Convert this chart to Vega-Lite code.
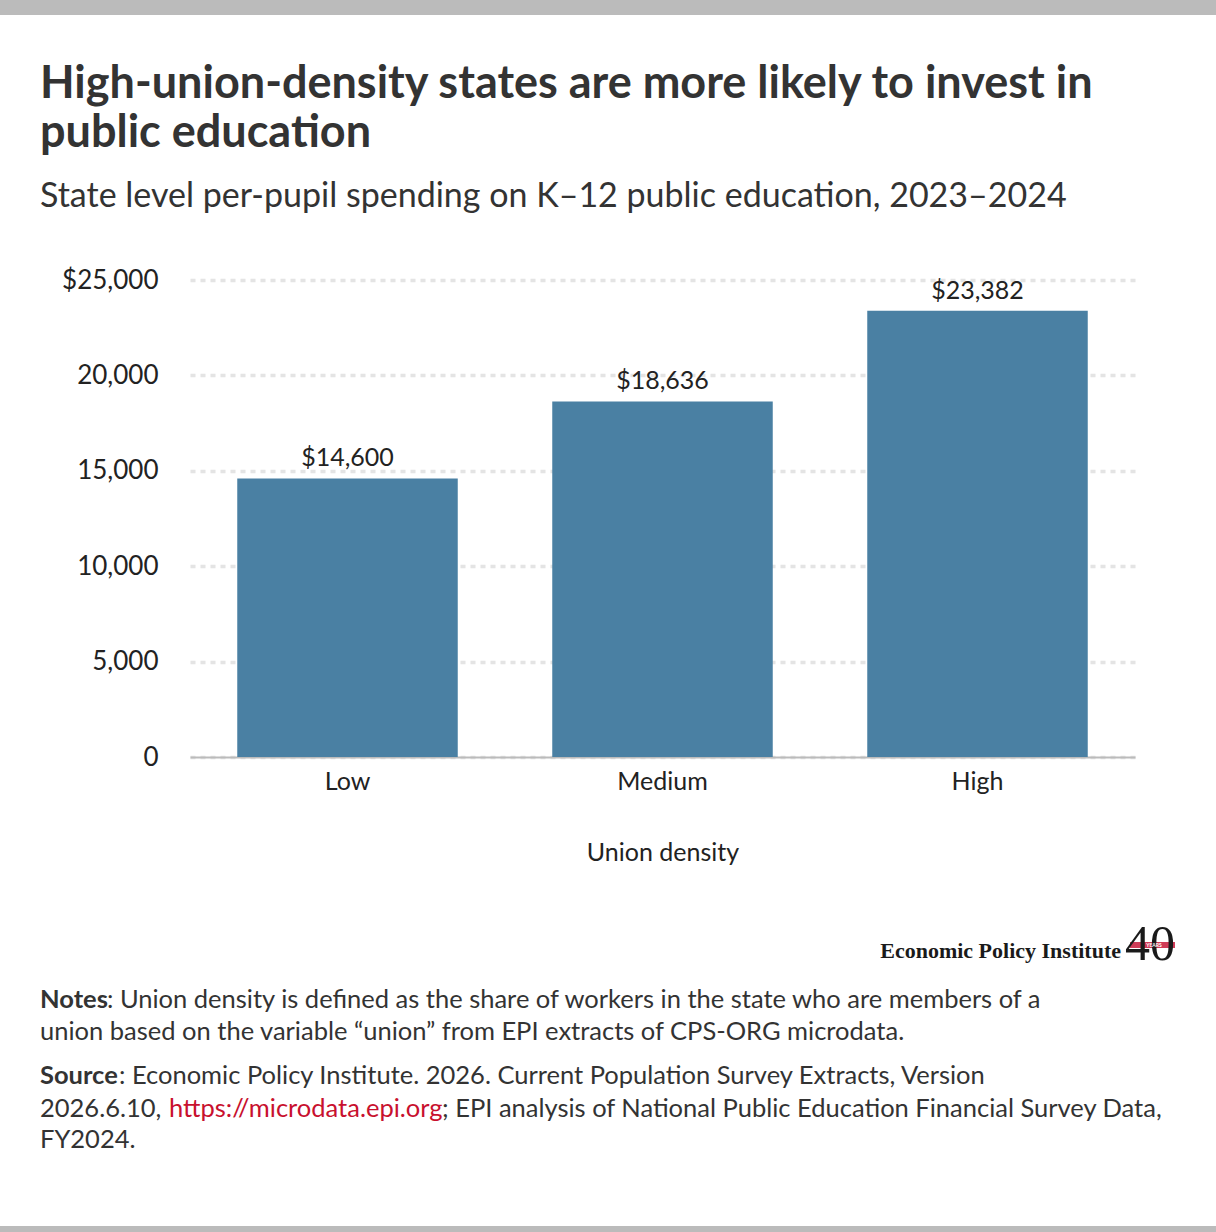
{
  "$schema": "https://vega.github.io/schema/vega-lite/v6.json",
  "description": "State level per-pupil spending on K-12 public education by union density, 2023-2024",
  "autosize": {"type": "none"},
  "padding": {"top": 280, "left": 190, "right": 81, "bottom": 475},
  "width": 945,
  "height": 477,
  "background": "white",
  "config": {
    "font": "Lato",
    "view": {"stroke": null},
    "text": {"font": "Lato", "color": "#333333"}
  },
  "datasets": {
    "spending": [
      {"density": "Low", "spending": 14600},
      {"density": "Medium", "spending": 18636},
      {"density": "High", "spending": 23382}
    ],
    "notes": [
      {"id": "t1", "text": "High-union-density states are more likely to invest in"},
      {"id": "t2", "text": "public education"},
      {"id": "sub", "text": "State level per-pupil spending on K–12 public education, 2023–2024"},
      {"id": "n1b", "text": "Notes"},
      {"id": "n1", "text": ": Union density is defined as the share of workers in the state who are members of a"},
      {"id": "n2", "text": "union based on the variable “union” from EPI extracts of CPS-ORG microdata."},
      {"id": "s1b", "text": "Source"},
      {"id": "s1", "text": ":  Economic Policy Institute. 2026. Current Population Survey Extracts, Version"},
      {"id": "s2a", "text": "2026.6.10, "},
      {"id": "s2b", "text": "https://microdata.epi.org"},
      {"id": "s2c", "text": "; EPI analysis of National Public Education Financial Survey Data,"},
      {"id": "s3", "text": "FY2024."},
      {"id": "logo", "text": "Economic Policy Institute"},
      {"id": "logo40", "text": "40"},
      {"id": "years", "text": "YEARS"}
    ]
  },
  "layer": [
    {
      "data": {"name": "spending"},
      "mark": {"type": "bar", "color": "#4a80a3"},
      "encoding": {
        "x": {
          "field": "density",
          "type": "nominal",
          "sort": null,
          "scale": {"paddingInner": 0.3, "paddingOuter": 0.15},
          "axis": {
            "title": "Union density",
            "labelAngle": 0,
            "labelFontSize": 25,
            "labelColor": "#222222",
            "labelPadding": 12,
            "titleFontSize": 25,
            "titleFontWeight": "normal",
            "titleColor": "#222222",
            "titlePadding": 46,
            "ticks": false,
            "domainColor": "#bbbbbb",
            "domainWidth": 2
          }
        },
        "y": {
          "field": "spending",
          "type": "quantitative",
          "scale": {"domain": [0, 25000], "nice": false},
          "axis": {
            "title": null,
            "values": [0, 5000, 10000, 15000, 20000, 25000],
            "labelExpr": "datum.value == 25000 ? '$25,000' : format(datum.value, ',')",
            "labelFontSize": 26,
            "labelColor": "#222222",
            "labelPadding": 32,
            "ticks": false,
            "domain": false,
            "gridColor": "#e4e4e4",
            "gridDash": [5, 5],
            "gridWidth": 3.5
          }
        }
      }
    },
    {
      "data": {"name": "spending"},
      "mark": {"type": "text", "baseline": "alphabetic", "dy": -12, "fontSize": 25, "color": "#222222"},
      "encoding": {
        "x": {"field": "density", "type": "nominal", "sort": null},
        "y": {"field": "spending", "type": "quantitative"},
        "text": {"field": "spending", "type": "quantitative", "format": "$,.0f"}
      }
    },
    {
      "data": {"values": [{"band": "top"}]},
      "mark": {"type": "rule", "color": "#bbbbbb", "strokeWidth": 15},
      "encoding": {"x": {"value": -190}, "x2": {"value": 1026}, "y": {"value": -272.5}}
    },
    {
      "data": {"values": [{"band": "bottom"}]},
      "mark": {"type": "rule", "color": "#bbbbbb", "strokeWidth": 7},
      "encoding": {"x": {"value": -190}, "x2": {"value": 1026}, "y": {"value": 949.5}}
    },
    {
      "data": {"name": "notes"},
      "transform": [{"filter": "datum.id == 't1'"}],
      "mark": {"type": "text", "align": "left", "baseline": "alphabetic", "fontSize": 45, "fontWeight": "bold", "x": -150, "y": -182},
      "encoding": {"text": {"field": "text"}}
    },
    {
      "data": {"name": "notes"},
      "transform": [{"filter": "datum.id == 't2'"}],
      "mark": {"type": "text", "align": "left", "baseline": "alphabetic", "fontSize": 45, "fontWeight": "bold", "x": -150, "y": -133},
      "encoding": {"text": {"field": "text"}}
    },
    {
      "data": {"name": "notes"},
      "transform": [{"filter": "datum.id == 'sub'"}],
      "mark": {"type": "text", "align": "left", "baseline": "alphabetic", "fontSize": 34, "x": -150, "y": -73},
      "encoding": {"text": {"field": "text"}}
    },
    {
      "data": {"name": "notes"},
      "transform": [{"filter": "datum.id == 'n1b'"}],
      "mark": {"type": "text", "align": "left", "baseline": "alphabetic", "fontSize": 25.5, "fontWeight": "bold", "x": -150, "y": 728},
      "encoding": {"text": {"field": "text"}}
    },
    {
      "data": {"name": "notes"},
      "transform": [{"filter": "datum.id == 'n1'"}],
      "mark": {"type": "text", "align": "left", "baseline": "alphabetic", "fontSize": 25.5, "x": -83, "y": 728},
      "encoding": {"text": {"field": "text"}}
    },
    {
      "data": {"name": "notes"},
      "transform": [{"filter": "datum.id == 'n2'"}],
      "mark": {"type": "text", "align": "left", "baseline": "alphabetic", "fontSize": 25.5, "x": -150, "y": 760},
      "encoding": {"text": {"field": "text"}}
    },
    {
      "data": {"name": "notes"},
      "transform": [{"filter": "datum.id == 's1b'"}],
      "mark": {"type": "text", "align": "left", "baseline": "alphabetic", "fontSize": 25.5, "fontWeight": "bold", "x": -150, "y": 804},
      "encoding": {"text": {"field": "text"}}
    },
    {
      "data": {"name": "notes"},
      "transform": [{"filter": "datum.id == 's1'"}],
      "mark": {"type": "text", "align": "left", "baseline": "alphabetic", "fontSize": 25.5, "x": -71, "y": 804},
      "encoding": {"text": {"field": "text"}}
    },
    {
      "data": {"name": "notes"},
      "transform": [{"filter": "datum.id == 's2a'"}],
      "mark": {"type": "text", "align": "left", "baseline": "alphabetic", "fontSize": 25.5, "x": -150, "y": 837},
      "encoding": {"text": {"field": "text"}}
    },
    {
      "data": {"name": "notes"},
      "transform": [{"filter": "datum.id == 's2b'"}],
      "mark": {"type": "text", "align": "left", "baseline": "alphabetic", "fontSize": 25.5, "color": "#c8102e", "x": -21, "y": 837},
      "encoding": {"text": {"field": "text"}}
    },
    {
      "data": {"name": "notes"},
      "transform": [{"filter": "datum.id == 's2c'"}],
      "mark": {"type": "text", "align": "left", "baseline": "alphabetic", "fontSize": 25.5, "x": 252, "y": 837},
      "encoding": {"text": {"field": "text"}}
    },
    {
      "data": {"name": "notes"},
      "transform": [{"filter": "datum.id == 's3'"}],
      "mark": {"type": "text", "align": "left", "baseline": "alphabetic", "fontSize": 25.5, "x": -150, "y": 868},
      "encoding": {"text": {"field": "text"}}
    },
    {
      "data": {"name": "notes"},
      "transform": [{"filter": "datum.id == 'logo'"}],
      "mark": {"type": "text", "align": "right", "baseline": "alphabetic", "font": "Liberation Serif", "fontSize": 22, "fontWeight": "bold", "color": "#1a1a1a", "x": 931, "y": 678},
      "encoding": {"text": {"field": "text"}}
    },
    {
      "data": {"values": [{"band": "years"}]},
      "mark": {"type": "rule", "color": "#cf3b57", "strokeWidth": 6},
      "encoding": {"x": {"value": 940}, "x2": {"value": 985}, "y": {"value": 665}}
    },
    {
      "data": {"name": "notes"},
      "transform": [{"filter": "datum.id == 'logo40'"}],
      "mark": {"type": "text", "align": "right", "baseline": "alphabetic", "font": "Liberation Serif", "fontSize": 50, "color": "#1a1a1a", "x": 985, "y": 680},
      "encoding": {"text": {"field": "text"}}
    },
    {
      "data": {"name": "notes"},
      "transform": [{"filter": "datum.id == 'years'"}],
      "mark": {"type": "text", "align": "center", "baseline": "middle", "fontSize": 5, "fontWeight": "bold", "color": "white", "x": 964, "y": 665},
      "encoding": {"text": {"field": "text"}}
    }
  ]
}
